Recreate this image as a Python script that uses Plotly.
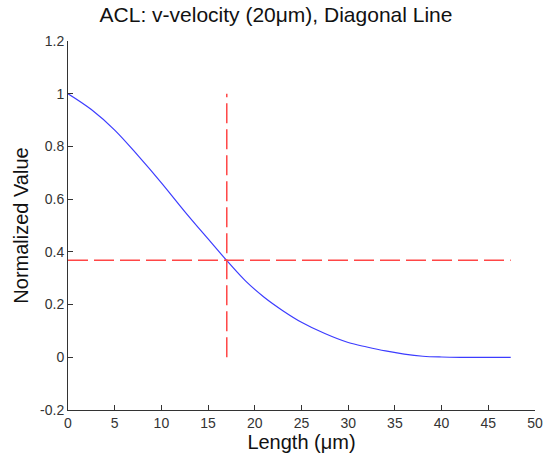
import plotly.graph_objects as go

# Data
length_um = [0, 2.5, 5, 7.5, 10, 12.5, 15, 17, 19, 21, 23, 25, 27.5, 30, 32, 34, 36, 38, 40, 42, 44, 47.4]
norm_value = [1.0, 0.94, 0.862, 0.765, 0.662, 0.553, 0.449, 0.367, 0.29, 0.228, 0.177, 0.133, 0.09, 0.056,
              0.039, 0.024, 0.012, 0.004, 0.001, 0.0, 0.0, 0.0]

h_line_x = [0, 47.4]
h_line_y = [0.3679, 0.3679]
v_line_x = [17, 17]
v_line_y = [0, 1.0]

x_ticks = [0, 5, 10, 15, 20, 25, 30, 35, 40, 45, 50]
y_ticks = [-0.2, 0, 0.2, 0.4, 0.6, 0.8, 1.0, 1.2]
y_tick_labels = ["-0.2", "0", "0.2", "0.4", "0.6", "0.8", "1", "1.2"]

FONT = "Liberation Sans, Arial, sans-serif"
red = "rgb(255,70,70)"

fig = go.Figure()
fig.add_trace(go.Scatter(x=length_um, y=norm_value, mode="lines",
                         line=dict(color="rgb(60,60,255)", width=1.2, shape="spline", smoothing=1.0),
                         hoverinfo="skip"))
fig.add_trace(go.Scatter(x=h_line_x, y=h_line_y, mode="lines",
                         line=dict(color=red, width=1.5, dash="20px,6px"), hoverinfo="skip"))
fig.add_trace(go.Scatter(x=v_line_x, y=v_line_y, mode="lines",
                         line=dict(color=red, width=1.5, dash="20px,6px"), hoverinfo="skip"))

fig.update_layout(
    width=555, height=466,
    margin=dict(l=68, r=14, t=41, b=56),
    paper_bgcolor="white", plot_bgcolor="white",
    showlegend=False,
    font=dict(family=FONT, color="#222"),
    title=dict(text="ACL: v-velocity (20\u03bcm), Diagonal Line",
               x=276/555, xref="container", xanchor="center",
               y=1 - 15/466, yref="container", yanchor="middle",
               font=dict(size=21, color="#111", family=FONT)),
)
fig.update_xaxes(
    range=[0, 50], tickvals=x_ticks, ticks="inside", ticklen=5, tickcolor="#333",
    showline=True, linecolor="#333", linewidth=1, showgrid=False, zeroline=False,
    tickfont=dict(size=14, color="#333"),
    title=dict(text="Length (\u03bcm)", font=dict(size=20, color="#111"), standoff=4),
)
fig.update_yaxes(
    range=[-0.2, 1.2], tickvals=y_ticks, ticktext=y_tick_labels, ticks="inside", ticklen=5,
    tickcolor="#333", showline=True, linecolor="#333", linewidth=1, showgrid=False, zeroline=False,
    tickfont=dict(size=14, color="#333"),
    title=dict(text="Normalized Value", font=dict(size=20, color="#111"), standoff=6),
)

fig.write_html("out.html")
